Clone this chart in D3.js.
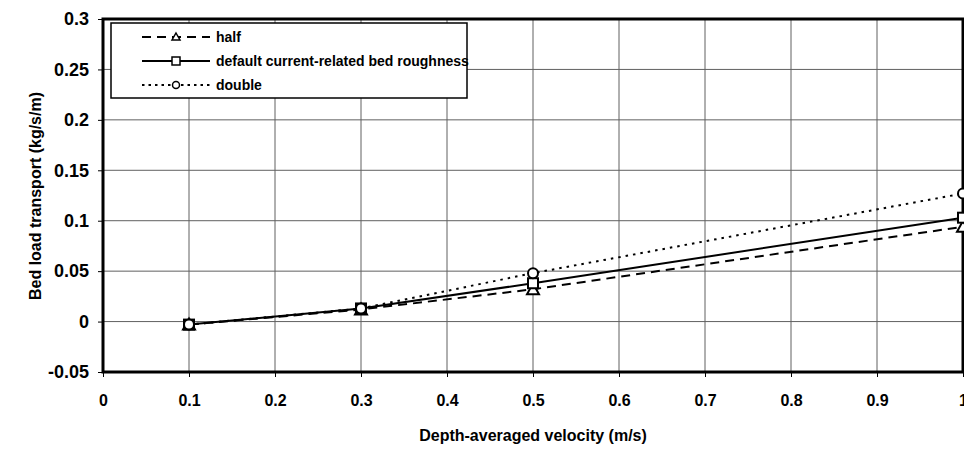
<!DOCTYPE html>
<html><head><meta charset="utf-8">
<script src="https://cdn.jsdelivr.net/npm/d3@7"></script>
<style>body{margin:0;background:#fff}svg{display:block}text{font-family:"Liberation Sans",Arial,sans-serif;font-weight:bold;fill:#000}</style>
</head><body><svg id="c" width="964" height="449"></svg>
<script>
const velocity = [0.1, 0.3, 0.5, 1.0];
const halfVals = [-0.003, 0.012, 0.032, 0.094];
const defaultVals = [-0.003, 0.013, 0.038, 0.103];
const doubleVals = [-0.003, 0.013, 0.048, 0.127];
const seriesNames = ["half", "default current-related bed roughness", "double"];
const xTicks = [0, 0.1, 0.2, 0.3, 0.4, 0.5, 0.6, 0.7, 0.8, 0.9, 1];
const yTicks = [-0.05, 0, 0.05, 0.1, 0.15, 0.2, 0.25, 0.3];

const svg = d3.select("#c");
const L = 103, R = 963, T = 19, B = 372;
const x = d3.scaleLinear().domain([0, 1]).range([L, R]);
const y = d3.scaleLinear().domain([-0.05, 0.3]).range([B, T]);

// grid
svg.append("g").selectAll("line").data(xTicks.slice(1, -1)).join("line")
  .attr("x1", d => x(d)).attr("x2", d => x(d)).attr("y1", T).attr("y2", B)
  .attr("stroke", "#606060").attr("stroke-width", 1);
svg.append("g").selectAll("line").data(yTicks.slice(1, -1)).join("line")
  .attr("y1", d => y(d)).attr("y2", d => y(d)).attr("x1", L).attr("x2", R)
  .attr("stroke", "#606060").attr("stroke-width", 1);

// axes
const ya = svg.append("g").attr("transform", `translate(${L},0)`)
  .call(d3.axisLeft(y).tickValues(yTicks).tickSize(5).tickPadding(9).tickFormat(d => String(+d.toFixed(2))));
const xa = svg.append("g").attr("transform", `translate(0,${B})`)
  .call(d3.axisBottom(x).tickValues(xTicks).tickSize(5).tickPadding(18).tickFormat(d => String(+d.toFixed(1))));
[ya, xa].forEach(a => {
  a.select(".domain").remove();
  a.selectAll("text").style("font-weight", "bold").attr("fill", "#000");
  a.selectAll("line").attr("stroke", "#000");
});
ya.selectAll("text").style("font-size", "18px");
xa.selectAll("text").style("font-size", "16px");

// frame
svg.append("rect").attr("x", L).attr("y", T).attr("width", R - L).attr("height", B - T)
  .attr("fill", "none").attr("stroke", "#000").attr("stroke-width", 3);

// series
const series = [
  {name: seriesNames[0], vals: halfVals, dash: "9,6", marker: "tri"},
  {name: seriesNames[1], vals: defaultVals, dash: null, marker: "sq"},
  {name: seriesNames[2], vals: doubleVals, dash: "2.5,5", marker: "circ"}
];
const line = d3.line().x((d, i) => x(velocity[i])).y(d => y(d));
function marker(g, type, cx, cy) {
  if (type === "tri") g.append("path").attr("d", `M${cx},${cy-6}L${cx+6},${cy+5}L${cx-6},${cy+5}Z`);
  else if (type === "sq") g.append("rect").attr("x", cx-5).attr("y", cy-5).attr("width", 10).attr("height", 10);
  else g.append("circle").attr("cx", cx).attr("cy", cy).attr("r", 5);
}
series.forEach(s => {
  svg.append("path").datum(s.vals).attr("d", line).attr("fill", "none")
    .attr("stroke", "#000").attr("stroke-width", 2).attr("stroke-dasharray", s.dash);
  const g = svg.append("g").attr("fill", "#fff").attr("stroke", "#000").attr("stroke-width", 2);
  s.vals.forEach((v, i) => marker(g, s.marker, x(velocity[i]), y(v)));
});

// legend
const lg = svg.append("g");
lg.append("rect").attr("x", 111).attr("y", 23).attr("width", 356).attr("height", 75)
  .attr("fill", "#fff").attr("stroke", "#000").attr("stroke-width", 1.5);
series.forEach((s, i) => {
  const ly = 37 + i * 24;
  lg.append("line").attr("x1", 142).attr("x2", 210).attr("y1", ly).attr("y2", ly)
    .attr("stroke", "#000").attr("stroke-width", 2).attr("stroke-dasharray", s.dash ? (s.marker === "tri" ? "9,6" : "2.5,4") : null);
  const g = lg.append("g").attr("fill", "#fff").attr("stroke", "#000").attr("stroke-width", 1.5);
  if (s.marker === "tri") g.append("path").attr("d", `M176,${ly-4}L180,${ly+3}L172,${ly+3}Z`);
  else if (s.marker === "sq") g.append("rect").attr("x", 172).attr("y", ly-4).attr("width", 8).attr("height", 8);
  else g.append("circle").attr("cx", 176).attr("cy", ly).attr("r", 3.5);
  lg.append("text").attr("x", 216).attr("y", ly).attr("dy", "0.35em").style("font-size", "14px").text(s.name);
});

// titles
svg.append("text").attr("x", 533).attr("y", 441).attr("text-anchor", "middle").style("font-size", "16px")
  .text("Depth-averaged velocity (m/s)");
svg.append("text").attr("transform", "translate(41,196) rotate(-90)").attr("text-anchor", "middle").style("font-size", "16px")
  .text("Bed load transport (kg/s/m)");
</script></body></html>
